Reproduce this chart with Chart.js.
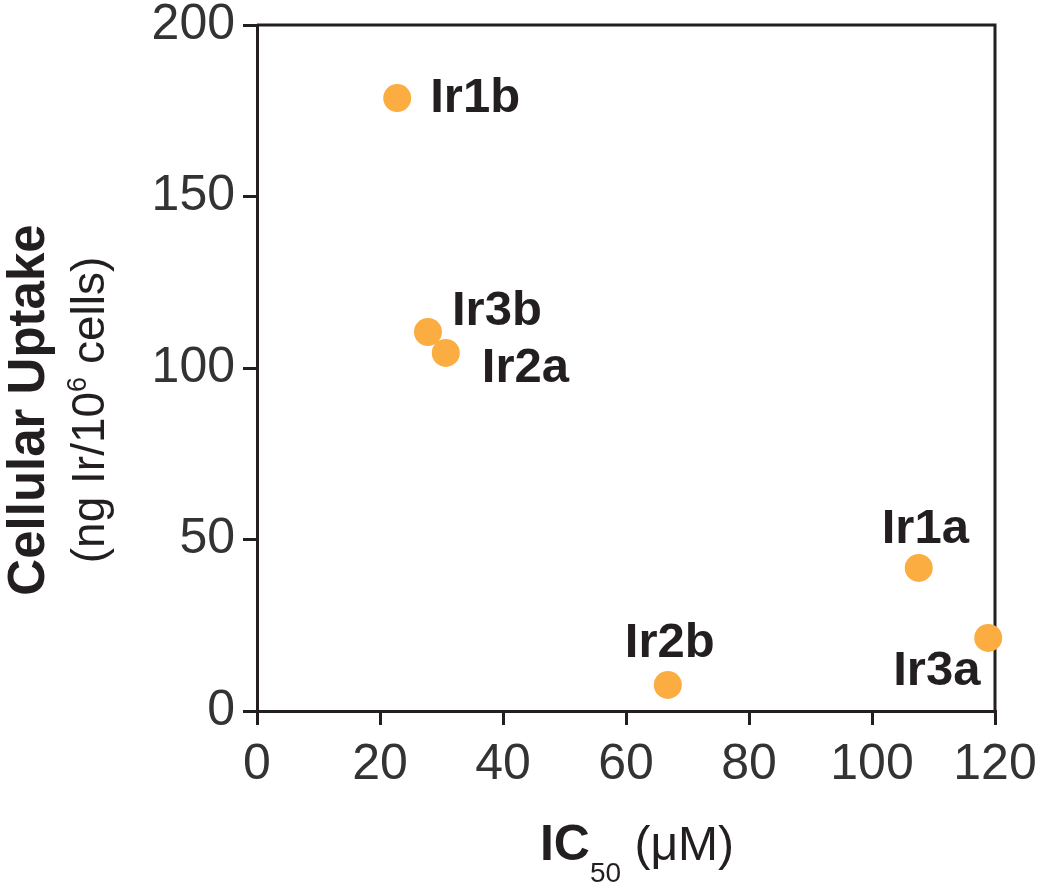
<!DOCTYPE html>
<html>
<head>
<meta charset="utf-8">
<script src="https://cdn.jsdelivr.net/npm/chart.js@4/dist/chart.umd.min.js"></script>
<style>
  html, body { margin: 0; padding: 0; background: #ffffff; }
  #wrap { width: 1050px; height: 885px; position: relative; }
</style>
</head>
<body>
<div id="wrap"><canvas id="c" width="1050" height="885"></canvas></div>
<script>
// ---- data ----
const categories = ['Ir1b', 'Ir3b', 'Ir2a', 'Ir1a', 'Ir3a', 'Ir2b'];
const ic50Values = [22.8, 27.8, 30.7, 107.6, 118.9, 66.8];
const uptakeValues = [178.7, 110.5, 104.4, 41.7, 21.3, 7.6];
const xTickValues = [0, 20, 40, 60, 80, 100, 120];
const yTickValues = [0, 50, 100, 150, 200];

// ---- label placement (pixel offsets from point centre: text left, baseline) ----
const labelOffsets = {
  Ir1b: [33, 14],
  Ir3b: [24, -7],
  Ir2a: [36, 29],
  Ir1a: [-37, -25],
  Ir3a: [-95, 47],
  Ir2b: [-43, -28]
};

const FONT = "'Liberation Sans', Arial, Helvetica, sans-serif";
const INK = '#231F20';
const POINT = '#FBAD41';

const framePlugin = {
  id: 'frame',
  beforeDatasetsDraw(chart) {
    const { ctx, chartArea: a } = chart;
    ctx.save();
    ctx.strokeStyle = INK;
    ctx.lineWidth = 3;
    ctx.beginPath();
    ctx.moveTo(a.left, a.top);
    ctx.lineTo(a.right, a.top);
    ctx.lineTo(a.right, a.bottom);
    ctx.stroke();
    ctx.restore();
  }
};

const labelPlugin = {
  id: 'pointLabels',
  afterDatasetsDraw(chart) {
    const { ctx } = chart;
    const meta = chart.getDatasetMeta(0);
    ctx.save();
    ctx.fillStyle = INK;
    ctx.font = 'bold 49px ' + FONT;
    ctx.textAlign = 'left';
    ctx.textBaseline = 'alphabetic';
    meta.data.forEach((el, i) => {
      const name = categories[i];
      const off = labelOffsets[name] || [20, 0];
      ctx.fillText(name, el.x + off[0], el.y + off[1]);
    });
    ctx.restore();
  }
};

const titlePlugin = {
  id: 'titles',
  afterDraw(chart) {
    const { ctx, chartArea: a } = chart;
    ctx.save();
    ctx.fillStyle = INK;
    ctx.textBaseline = 'alphabetic';
    // ---- x title: IC50 (μM) ----
    const segsX = [
      { t: 'IC', f: 'bold 50px ' + FONT, dy: 0 },
      { t: '50', f: '28px ' + FONT, dy: 22 },
      { t: ' (\u03BCM)', f: '48px ' + FONT, dy: 0 }
    ];
    let total = 0;
    segsX.forEach(s => { ctx.font = s.f; s.w = ctx.measureText(s.t).width; total += s.w; });
    let x = (a.left + a.right) / 2 + 11 - total / 2;
    const baseX = 860;
    segsX.forEach(s => { ctx.font = s.f; ctx.fillText(s.t, x, baseX + s.dy); x += s.w; });

    // ---- y title ----
    const cy = 410;
    ctx.save();
    ctx.translate(44, cy);
    ctx.rotate(-Math.PI / 2);
    ctx.font = 'bold 51px ' + FONT;
    ctx.textAlign = 'center';
    ctx.fillText('Cellular Uptake', 0, 0);
    ctx.restore();
    const segsY = [
      { t: '(ng Ir/10', f: '46px ' + FONT, dy: 0 },
      { t: '6', f: '27px ' + FONT, dy: -18 },
      { t: ' cells)', f: '46px ' + FONT, dy: 0 }
    ];
    let tot2 = 0;
    segsY.forEach(s => { ctx.font = s.f; s.w = ctx.measureText(s.t).width; tot2 += s.w; });
    ctx.save();
    ctx.translate(104, cy);
    ctx.rotate(-Math.PI / 2);
    ctx.textAlign = 'left';
    let px = -tot2 / 2;
    segsY.forEach(s => { ctx.font = s.f; ctx.fillText(s.t, px, s.dy); px += s.w; });
    ctx.restore();
    ctx.restore();
  }
};

const scatterData = ic50Values.map((v, i) => ({ x: v, y: uptakeValues[i] }));

new Chart(document.getElementById('c'), {
  type: 'scatter',
  data: {
    datasets: [{
      label: 'Complexes',
      data: scatterData,
      backgroundColor: POINT,
      borderColor: POINT,
      borderWidth: 0,
      pointRadius: 14,
      pointHoverRadius: 14,
      clip: false
    }]
  },
  options: {
    responsive: false,
    animation: false,
    events: [],
    layout: { padding: { top: 25, right: 55, left: 0, bottom: 0 } },
    plugins: {
      legend: { display: false },
      tooltip: { enabled: false },
      title: { display: false }
    },
    scales: {
      x: {
        type: 'linear',
        min: 0,
        max: 120,
        afterBuildTicks: s => { s.ticks = xTickValues.map(v => ({ value: v })); },
        afterFit: s => { s.height = 174; s.paddingLeft = 0; s.paddingRight = 0; },
        border: { display: true, color: INK, width: 3 },
        grid: { drawOnChartArea: false, drawTicks: true, tickLength: 14, color: INK, lineWidth: 3 },
        ticks: { color: '#333333', font: { family: FONT, size: 50, lineHeight: 1 }, padding: 15, maxRotation: 0, autoSkip: false }
      },
      y: {
        type: 'linear',
        min: 0,
        max: 200,
        afterBuildTicks: s => { s.ticks = yTickValues.map(v => ({ value: v })); },
        afterFit: s => { s.width = 257; s.paddingTop = 0; s.paddingBottom = 0; },
        border: { display: true, color: INK, width: 3 },
        grid: { drawOnChartArea: false, drawTicks: true, tickLength: 14, color: INK, lineWidth: 3 },
        ticks: { color: '#333333', font: { family: FONT, size: 50, lineHeight: 1 }, padding: 8, autoSkip: false }
      }
    }
  },
  plugins: [framePlugin, labelPlugin, titlePlugin]
});
</script>
</body>
</html>
